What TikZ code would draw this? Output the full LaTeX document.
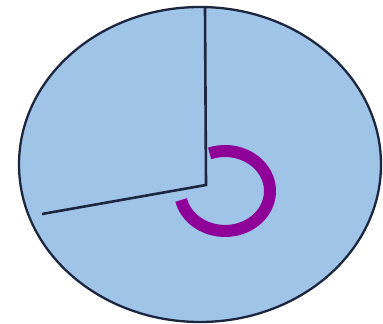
\documentclass[tikz,border=0pt]{standalone}
\usetikzlibrary{positioning}
\definecolor{DiscBlue}{RGB}{160,196,232}
\definecolor{EdgeNavy}{RGB}{28,38,62}
\definecolor{TurnPurple}{RGB}{142,0,152}
\tikzset{
  disc/.style={draw=EdgeNavy,fill=DiscBlue,line width=2.3pt},
  ray/.style={draw=EdgeNavy,line width=2.6pt},
  turn/.style={draw=TurnPurple,line width=12pt}
}

\begin{document}
\begin{tikzpicture}[x=1pt,y=-1pt]
  \useasboundingbox (0,0) rectangle (383,324);
  \fill[white] (0,0) rectangle (383,324);
  \draw[disc] (200,164.5) ellipse [x radius=181,y radius=157.5];
  \coordinate (vertex) at (206,185);
  \coordinate (up) at (205,7);
  \coordinate (side) at (42,214);
  \draw[ray] (up) -- (vertex) -- (side);
  % reflex angle marker
  \coordinate (mid) at (225,191);
  \draw[turn] ([shift={(110:45 and -40)}]mid) arc [start angle=110,end angle=-167,x radius=45,y radius=-40];
\end{tikzpicture}
\end{document}
